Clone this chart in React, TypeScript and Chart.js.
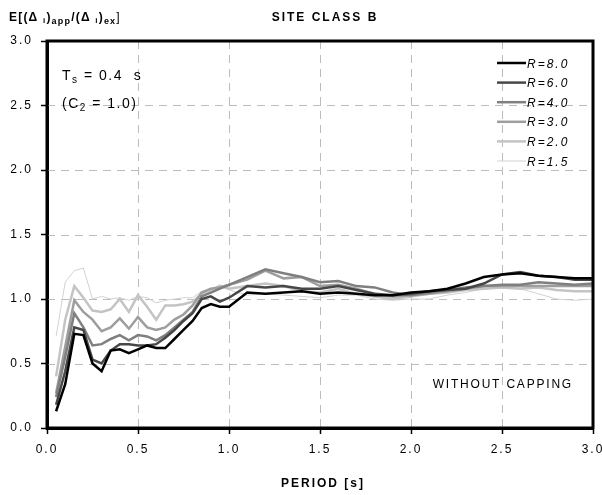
import React, { useEffect, useRef } from 'react';
import { Chart, registerables } from 'chart.js';

Chart.register(...registerables);

const FONT = '"Liberation Sans", Arial, sans-serif';

// Period values [s]
const periods = [
  0.05, 0.1, 0.15, 0.2, 0.25, 0.3, 0.35, 0.4, 0.45, 0.5,
  0.55, 0.6, 0.65, 0.7, 0.75, 0.8, 0.85, 0.9, 0.95, 1.0,
  1.1, 1.2, 1.3, 1.4, 1.5, 1.6, 1.7, 1.8, 1.9, 2.0,
  2.1, 2.2, 2.3, 2.4, 2.5, 2.6, 2.7, 2.8, 2.9, 3.0,
];

const r80 = [
  0.13, 0.34, 0.73, 0.72, 0.5, 0.44, 0.6, 0.61, 0.58, 0.61,
  0.64, 0.62, 0.62, 0.69, 0.76, 0.83, 0.93, 0.96, 0.94, 0.94,
  1.05, 1.04, 1.05, 1.06, 1.04, 1.05, 1.04, 1.03, 1.03, 1.05,
  1.06, 1.08, 1.12, 1.17, 1.19, 1.2, 1.18, 1.17, 1.16, 1.16,
];
const r60 = [
  0.18, 0.44, 0.78, 0.76, 0.53, 0.5, 0.6, 0.65, 0.65, 0.64,
  0.64, 0.65, 0.7, 0.76, 0.83, 0.89, 1.0, 1.02, 0.98, 1.01,
  1.1, 1.09, 1.1, 1.08, 1.08, 1.1, 1.07, 1.04, 1.03, 1.04,
  1.06, 1.07, 1.08, 1.12, 1.19, 1.21, 1.18, 1.17, 1.15, 1.15,
];
const r40 = [
  0.24, 0.55, 0.89, 0.78, 0.64, 0.65, 0.69, 0.72, 0.68, 0.72,
  0.71, 0.68, 0.72, 0.78, 0.84, 0.9, 1.02, 1.05, 1.08, 1.11,
  1.17, 1.23, 1.2, 1.17, 1.13, 1.14, 1.1, 1.09, 1.05, 1.03,
  1.05, 1.07, 1.09, 1.1, 1.11, 1.11, 1.13, 1.12, 1.11, 1.12,
];
const r30 = [
  0.27, 0.63, 0.99, 0.9, 0.84, 0.75, 0.78, 0.85, 0.77, 0.86,
  0.78, 0.76, 0.78, 0.84, 0.88, 0.95, 1.05, 1.08, 1.09, 1.11,
  1.15, 1.22, 1.16, 1.17, 1.1, 1.11, 1.08, 1.04, 1.02, 1.03,
  1.04, 1.06, 1.08, 1.1, 1.1, 1.1, 1.1, 1.1, 1.1, 1.1,
];
const r20 = [
  0.4, 0.84, 1.1, 1.01, 0.91, 0.9, 0.92, 1.0, 0.9, 1.03,
  0.94, 0.84, 0.95, 0.95, 0.96, 0.98, 1.04, 1.07, 1.1, 1.08,
  1.1, 1.12, 1.1, 1.06, 1.05, 1.08, 1.04, 1.02, 1.0, 1.02,
  1.04, 1.05, 1.07, 1.08, 1.09, 1.08, 1.09, 1.07, 1.06, 1.06,
];
const r15 = [
  0.71, 1.13, 1.22, 1.24, 1.0, 1.02, 1.0, 1.01, 0.99, 1.02,
  1.01, 0.97, 0.99, 1.0, 1.01, 1.01, 1.06, 1.07, 1.11, 1.07,
  1.03, 1.04, 1.03, 1.02, 1.01, 1.03, 1.03, 1.0, 0.99, 1.0,
  1.0, 1.03, 1.05, 1.08, 1.09, 1.08, 1.04, 1.0, 0.99, 1.0,
];

const seriesValues = [r80, r60, r40, r30, r20, r15];
const seriesLabels = ['R=8.0', 'R=6.0', 'R=4.0', 'R=3.0', 'R=2.0', 'R=1.5'];
const seriesColors = ['#000000', '#474747', '#7f7f7f', '#9e9e9e', '#c4c4c4', '#d2d2d2'];
const seriesWidths = [2.5, 2.5, 2.5, 2.5, 2.5, 1];

const chartTitle = 'SITE CLASS B';
const xTitle = 'PERIOD [s]';
const note = 'WITHOUT CAPPING';
const gridTicks = [0, 0.5, 1.0, 1.5, 2.0, 2.5, 3.0];

type Part = { t: string; size: number; weight?: string; style?: string; dy?: number };

function drawRich(ctx: CanvasRenderingContext2D, x: number, y: number, parts: Part[], spacing: number, align: 'left' | 'center' | 'right' = 'left') {
  ctx.letterSpacing = spacing + 'px';
  ctx.textAlign = 'left';
  ctx.textBaseline = 'alphabetic';
  const fontOf = (p: Part) => `${p.style || 'normal'} ${p.weight || 'normal'} ${p.size}px ${FONT}`;
  let total = 0;
  const widths = parts.map((p) => {
    ctx.font = fontOf(p);
    const w = ctx.measureText(p.t).width;
    total += w;
    return w;
  });
  let cx = x;
  if (align === 'center') cx = x - total / 2;
  if (align === 'right') cx = x - total;
  parts.forEach((p, i) => {
    ctx.font = fontOf(p);
    ctx.fillText(p.t, cx, y + (p.dy || 0));
    cx += widths[i];
  });
}

const overlay = {
  id: 'overlay',
  beforeDraw(chart: any) {
    chart.ctx.letterSpacing = '2px';
  },
  beforeDatasetsDraw(chart: any) {
    const ctx: CanvasRenderingContext2D = chart.ctx;
    const { left, right, top, bottom } = chart.chartArea;
    const xs = chart.scales.x;
    const ys = chart.scales.y;
    ctx.save();
    ctx.strokeStyle = '#bcbcbc';
    ctx.lineWidth = 1;
    ctx.setLineDash([8, 6]);
    ctx.beginPath();
    for (const v of gridTicks) {
      const px = Math.round(xs.getPixelForValue(v)) + 0.5;
      ctx.moveTo(px, top);
      ctx.lineTo(px, bottom);
    }
    for (const v of gridTicks) {
      const py = Math.round(ys.getPixelForValue(v)) + 0.5;
      ctx.moveTo(left, py);
      ctx.lineTo(right, py);
    }
    ctx.stroke();
    ctx.restore();
  },
  afterDraw(chart: any) {
    const ctx: CanvasRenderingContext2D = chart.ctx;
    const { left, right, top, bottom } = chart.chartArea;
    ctx.save();
    ctx.setLineDash([]);
    ctx.strokeStyle = '#000';
    ctx.lineWidth = 3;
    ctx.strokeRect(left, top, right - left, bottom - top);

    ctx.fillStyle = '#000';
    drawRich(ctx, 325, 21, [{ t: chartTitle, size: 12, weight: 'bold' }], 2, 'center');
    drawRich(ctx, 9, 21, [
      { t: 'E[(Δ ', size: 12, weight: 'bold' },
      { t: 'i', size: 8, weight: 'bold', dy: 2 },
      { t: ')', size: 12, weight: 'bold' },
      { t: 'app', size: 9, weight: 'bold', dy: 3 },
      { t: '/(Δ ', size: 12, weight: 'bold' },
      { t: 'i', size: 8, weight: 'bold', dy: 2 },
      { t: ')', size: 12, weight: 'bold' },
      { t: 'ex', size: 9, weight: 'bold', dy: 3 },
      { t: ']', size: 12 },
    ], 1.2);
    drawRich(ctx, (left + right) / 2 + 3, 487, [{ t: xTitle, size: 12, weight: 'bold' }], 2, 'center');
    drawRich(ctx, left + 15, 80, [
      { t: 'T', size: 14 },
      { t: 's', size: 10, dy: 3 },
      { t: ' = 0.4  s', size: 14 },
    ], 1.5);
    drawRich(ctx, left + 15, 108, [
      { t: '(C', size: 14 },
      { t: '2', size: 10, dy: 3 },
      { t: ' = 1.0)', size: 14 },
    ], 1.5);
    drawRich(ctx, right - 20, 388, [{ t: note, size: 12 }], 1.8, 'right');

    for (let i = 0; i < seriesLabels.length; i++) {
      const y = top + 22 + i * 19.6;
      ctx.strokeStyle = seriesColors[i];
      ctx.lineWidth = seriesWidths[i];
      ctx.beginPath();
      ctx.moveTo(right - 96, y);
      ctx.lineTo(right - 67, y);
      ctx.stroke();
      ctx.fillStyle = '#000';
      drawRich(ctx, right - 66, y + 4.5, [{ t: seriesLabels[i], size: 12, style: 'italic' }], 2);
    }
    ctx.restore();
  },
};

export default function App() {
  const canvasRef = useRef<HTMLCanvasElement | null>(null);

  useEffect(() => {
    if (!canvasRef.current) return;
    Chart.defaults.font.family = FONT;
    const datasets = seriesValues.map((vals, i) => ({
      label: seriesLabels[i],
      data: periods.map((p, j) => ({ x: p, y: vals[j] })),
      borderColor: seriesColors[i],
      backgroundColor: seriesColors[i],
      borderWidth: seriesWidths[i],
      pointRadius: 0,
      tension: 0,
      fill: false,
    }));
    const chart = new Chart(canvasRef.current, {
      type: 'line',
      data: { datasets },
      options: {
        animation: false,
        responsive: false,
        layout: { padding: { top: 41, right: 9, bottom: 7, left: 0 } },
        plugins: {
          legend: { display: false },
          title: { display: false },
          tooltip: { enabled: false },
        },
        scales: {
          x: {
            type: 'linear',
            min: 0,
            max: 3,
            ticks: {
              stepSize: 0.5,
              color: '#000',
              padding: 8,
              maxRotation: 0,
              font: { size: 12, family: FONT },
              callback: (v: any) => Number(v).toFixed(1),
            },
            grid: {
              drawOnChartArea: false,
              drawTicks: true,
              tickLength: 6,
              tickColor: '#000',
              tickWidth: 1.5,
            },
            border: { display: true, color: '#000', width: 3 },
            afterFit: (scale: any) => {
              scale.height = 60;
              scale.paddingLeft = 0;
              scale.paddingRight = 0;
            },
          },
          y: {
            type: 'linear',
            min: 0,
            max: 3,
            ticks: {
              stepSize: 0.5,
              color: '#000',
              padding: 8,
              font: { size: 12, family: FONT },
              callback: (v: any) => Number(v).toFixed(1),
            },
            grid: {
              drawOnChartArea: false,
              drawTicks: true,
              tickLength: 6,
              tickColor: '#000',
              tickWidth: 1.5,
            },
            border: { display: true, color: '#000', width: 3 },
            afterFit: (scale: any) => {
              scale.width = 47;
            },
          },
        },
      } as any,
      plugins: [overlay as any],
    });
    return () => chart.destroy();
  }, []);

  return (
    <div style={{ position: 'fixed', left: 0, top: 0, width: 602, height: 495, background: '#fff' }}>
      <canvas ref={canvasRef} width={602} height={495} style={{ display: 'block' }} />
    </div>
  );
}
